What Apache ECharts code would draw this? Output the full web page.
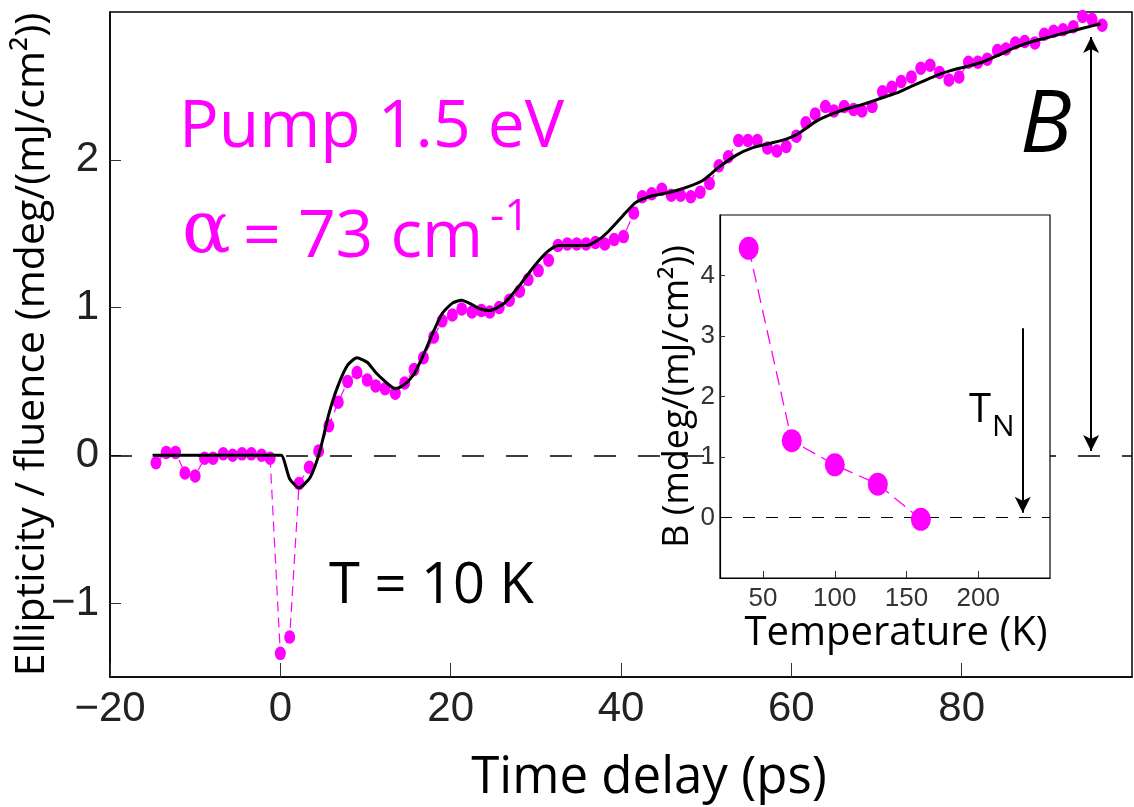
<!DOCTYPE html>
<html><head><meta charset="utf-8">
<script src="https://cdn.jsdelivr.net/npm/echarts@6/dist/echarts.min.js"></script>
<style>html,body{margin:0;padding:0;background:#fff}#c{width:1134px;height:807px}</style>
</head><body><div id="c"></div>
<script>
// ---- data ----
const delayPs = [-14.6,-13.4,-12.3,-11.2,-10.0,-8.9,-7.9,-6.7,-5.6,-4.5,-3.4,-2.2,-1.2,0.0,1.1,2.2,3.4,4.5,5.7,6.8,7.9,9.0,10.2,11.2,12.3,13.5,14.6,15.7,16.8,18.0,19.0,20.2,21.3,22.5,23.6,24.6,25.7,26.9,28.1,29.1,30.3,31.5,32.6,33.7,34.8,35.9,37.0,38.1,39.2,40.3,41.5,42.5,43.6,44.8,45.9,47.0,48.2,49.3,50.4,51.5,52.6,53.8,54.9,56.0,57.2,58.3,59.4,60.6,61.7,62.8,64.0,65.0,66.2,67.3,68.3,69.5,70.7,71.8,72.9,74.1,75.2,76.3,77.4,78.5,79.7,80.8,81.9,83.0,84.2,85.2,86.3,87.4,88.6,89.7,90.8,91.9,93.1,94.2,95.3,96.5];
const signal = [-0.05,0.02,0.02,-0.12,-0.14,-0.02,-0.02,0.01,0.00,0.01,0.01,0.00,-0.02,-1.34,-1.23,-0.19,-0.08,0.03,0.20,0.36,0.50,0.56,0.51,0.47,0.45,0.42,0.49,0.58,0.66,0.80,0.91,0.95,0.99,0.97,0.98,0.97,1.00,1.05,1.11,1.19,1.25,1.32,1.42,1.43,1.43,1.43,1.44,1.43,1.46,1.48,1.64,1.75,1.77,1.80,1.76,1.76,1.75,1.78,1.84,1.96,2.02,2.13,2.13,2.13,2.08,2.06,2.09,2.16,2.25,2.31,2.36,2.33,2.36,2.34,2.33,2.36,2.46,2.49,2.53,2.56,2.62,2.64,2.59,2.54,2.56,2.66,2.66,2.68,2.74,2.75,2.79,2.80,2.79,2.85,2.87,2.88,2.90,2.97,2.95,2.91];
const fitDelayPs = [-15,-1.0,0.1,1.1,2.2,3.5,4.6,5.7,6.7,7.9,9.0,10.2,11.2,12.3,13.5,14.6,15.7,16.8,18.0,19.0,20.2,21.3,22.5,23.5,24.6,26.3,28.1,29.8,31.4,32.6,34.3,36.0,37.4,38.6,40.2,41.7,43.3,44.9,46.4,48.0,49.6,51.5,53.5,55.4,57.4,59.4,60.9,62.9,64.8,66.8,68.7,70.7,72.7,74.6,76.6,78.5,80.5,82.4,84.4,86.3,88.3,90.3,92.2,94.2,96.3];
const fitSignal = [0,0,0,-0.16,-0.22,-0.15,0.02,0.28,0.46,0.61,0.66,0.63,0.56,0.50,0.45,0.48,0.55,0.68,0.84,0.96,1.03,1.05,1.02,0.99,0.98,1.03,1.15,1.28,1.38,1.42,1.42,1.42,1.46,1.52,1.62,1.71,1.75,1.77,1.79,1.82,1.86,1.95,2.03,2.08,2.11,2.14,2.18,2.26,2.31,2.35,2.38,2.42,2.46,2.51,2.56,2.60,2.63,2.66,2.71,2.76,2.80,2.83,2.86,2.89,2.92];
const temperatureK = [40,70,100,130,160];
const amplitudeB = [4.45,1.27,0.87,0.55,-0.03];
const mainXTicks = [-20,0,20,40,60,80];
const mainYTicks = [-1,0,1,2];
const insetXTicks = [50,100,150,200];
const insetYTicks = [0,1,2,3,4];
const arrowB = [95.2, 0.03, 2.83];   // x, from y, to y (main axes)
const arrowTN = [231, 3.13, 0.08];   // x, from y, to y (inset axes)

// ---- chart ----
const zip = (a,b) => a.map((v,i)=>[v,b[i]]);
const minus = v => String(v).replace('-', '\u2212');
const PINK = '#ff00ff';
const SANS = '"Open Sans", "Noto Sans", sans-serif';
const TICKF = '"Liberation Sans", Arial, sans-serif';
const inset = {left:720, top:215, width:330, height:363};

const chart = echarts.init(document.getElementById('c'), null, {renderer:'canvas'});
const option = {
  animation:false,
  backgroundColor:'#fff',
  grid:[
    {left:110, top:12, right:2, bottom:130, outerBoundsMode:'none', containLabel:false, show:true, borderColor:'#000', borderWidth:1.5, backgroundColor:'transparent'},
    {left:inset.left, top:inset.top, width:inset.width, height:inset.height, outerBoundsMode:'none', containLabel:false, show:true, borderColor:'#000', borderWidth:1.2, backgroundColor:'#fff', z:3}
  ],
  xAxis:[
    {type:'value', gridIndex:0, min:-20, max:100, interval:20,
     name:'Time delay (ps)', nameLocation:'middle', nameGap:76, nameMoveOverlap:false,
     nameTextStyle:{fontFamily:SANS, fontSize:51, color:'#000', padding:[0,0,0,56]},
     axisLine:{show:true, onZero:false, lineStyle:{color:'#000', width:1.5}},
     axisTick:{show:true, inside:true, length:14, customValues:mainXTicks, lineStyle:{color:'#333', width:1}},
     axisLabel:{customValues:mainXTicks, formatter:minus, fontFamily:TICKF, fontSize:42, color:'#222', margin:11},
     splitLine:{show:false}},
    {type:'value', gridIndex:1, min:20, max:250, z:4,
     name:'Temperature (K)', nameLocation:'middle', nameGap:36, nameMoveOverlap:false,
     nameTextStyle:{fontFamily:SANS, fontSize:40, color:'#000', padding:[0,0,0,22]},
     axisLine:{show:true, onZero:false, lineStyle:{color:'#000', width:1.2}},
     axisTick:{show:true, inside:true, length:7, customValues:insetXTicks, lineStyle:{color:'#333', width:1}},
     axisLabel:{customValues:insetXTicks, fontFamily:TICKF, fontSize:26, color:'#333', margin:8},
     splitLine:{show:false}}
  ],
  yAxis:[
    {type:'value', gridIndex:0, min:-1.5, max:3,
     name:'Ellipticity / fluence (mdeg/(mJ/cm\u00b2))', nameLocation:'middle', nameGap:57, nameMoveOverlap:false,
     nameTextStyle:{fontFamily:SANS, fontSize:41, color:'#000'},
     axisLine:{show:true, onZero:false, lineStyle:{color:'#000', width:1.5}},
     axisTick:{show:true, inside:true, length:11, customValues:mainYTicks, lineStyle:{color:'#333', width:1}},
     axisLabel:{customValues:mainYTicks, formatter:minus, fontFamily:TICKF, fontSize:42, color:'#222', margin:11},
     splitLine:{show:false}},
    {type:'value', gridIndex:1, min:-1, max:5, z:4,
     name:'B (mdeg/(mJ/cm\u00b2))', nameLocation:'middle', nameGap:24, nameMoveOverlap:false,
     nameTextStyle:{fontFamily:SANS, fontSize:36, color:'#000'},
     axisLine:{show:true, onZero:false, lineStyle:{color:'#000', width:1.2}},
     axisTick:{show:true, inside:true, length:5, customValues:insetYTicks, lineStyle:{color:'#333', width:1}},
     axisLabel:{customValues:insetYTicks, fontFamily:TICKF, fontSize:26, color:'#333', margin:5},
     splitLine:{show:false}}
  ],
  series:[
    {name:'data', type:'line', xAxisIndex:0, yAxisIndex:0, z:1,
     data:zip(delayPs, signal), symbol:'circle', symbolSize:[11,13.5], showSymbol:true, showAllSymbol:true,
     itemStyle:{color:PINK}, lineStyle:{color:PINK, width:1.2, type:[10,6]},
     markLine:{silent:true, z:1, symbol:'none', label:{show:false},
       lineStyle:{color:'#000', width:1.5, type:[22,22]}, data:[{yAxis:0}]}},
    {name:'fit', type:'line', xAxisIndex:0, yAxisIndex:0, z:2,
     data:zip(fitDelayPs, fitSignal), symbol:'none', smooth:0.2,
     lineStyle:{color:'#000', width:3},
     markLine:{silent:true, z:2, symbol:['arrow','arrow'], symbolSize:[12,16], label:{show:false},
       lineStyle:{color:'#000', width:2, type:'solid'},
       data:[[{coord:[arrowB[0], arrowB[1]]},{coord:[arrowB[0], arrowB[2]]}]]}},
    {name:'B', type:'line', xAxisIndex:1, yAxisIndex:1, z:6,
     data:zip(temperatureK, amplitudeB), symbol:'circle', symbolSize:[20,23],
     itemStyle:{color:PINK}, lineStyle:{color:PINK, width:1.3, type:[14,7]},
     markLine:{silent:true, z:5, symbol:'none', label:{show:false},
       lineStyle:{color:'#000', width:2, type:'solid'},
       data:[
         {yAxis:0, lineStyle:{color:'#000', width:1.2, type:[12,11]}},
         [{coord:[arrowTN[0], arrowTN[1]], symbol:'none'},
          {coord:[arrowTN[0], arrowTN[2]], symbol:'arrow', symbolSize:[12,16]}]
       ]}}
  ],
  graphic:[
    {type:'text', x:179, y:128, z:10, style:{text:'Pump 1.5 eV', fill:PINK, fontFamily:SANS, fontSize:66, align:'left', verticalAlign:'middle'}},
    {type:'text', x:182, y:233, z:10, style:{text:'\u03b1', fill:PINK, fontFamily:'"DejaVu Serif", "Liberation Serif", serif', fontSize:72, align:'left', verticalAlign:'middle'}},
    {type:'text', x:243, y:238, z:10, style:{text:'= 73 cm', fill:PINK, fontFamily:SANS, fontSize:66, align:'left', verticalAlign:'middle'}},
    {type:'text', x:490, y:217, z:10, style:{text:'-1', fill:PINK, fontFamily:SANS, fontSize:44, align:'left', verticalAlign:'middle'}},
    {type:'text', x:329, y:587, z:10, style:{text:'T = 10 K', fill:'#000', fontFamily:SANS, fontSize:56, align:'left', verticalAlign:'middle'}},
    {type:'text', x:1020, y:127, z:10, style:{text:'B', fill:'#000', fontFamily:SANS, fontStyle:'italic', fontSize:86, align:'left', verticalAlign:'middle'}},
    {type:'text', x:969, y:411, z:10, style:{text:'T', fill:'#000', fontFamily:SANS, fontSize:40, align:'left', verticalAlign:'middle'}},
    {type:'text', x:992, y:427, z:10, style:{text:'N', fill:'#000', fontFamily:SANS, fontSize:30, align:'left', verticalAlign:'middle'}}
  ]
};
chart.setOption(option);
</script></body></html>
